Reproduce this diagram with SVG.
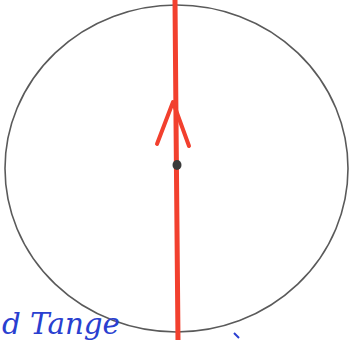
<svg xmlns="http://www.w3.org/2000/svg" width="352" height="340" viewBox="0 0 352 340">
  <style>
    .pencil { fill: none; stroke: #5a5a5a; stroke-width: 1.6; }
    .red { fill: none; stroke: #f2402e; stroke-width: 5; stroke-linecap: round; stroke-linejoin: round; }
    .redthin { fill: none; stroke: #f2402e; stroke-width: 4; stroke-linecap: round; stroke-linejoin: round; }
    .hand { fill: #2a3fd0; font-family: "DejaVu Serif", serif; font-style: italic; font-size: 30px; }
  </style>
  <rect width="352" height="340" fill="#ffffff"/>
  <g id="circle">
    <ellipse class="pencil" cx="176.5" cy="168.5" rx="171.5" ry="163.5"/>
  </g>
  <g id="connectors">
    <path class="red" d="M175,0 L176,120 L178,340"/>
    <path class="redthin" d="M157,144 L173,102 L189,146"/>
  </g>
  <g id="center">
    <ellipse cx="177" cy="165" rx="4.5" ry="5" fill="#3a3a3a"/>
  </g>
  <g id="label">
    <text class="hand" x="2" y="334" textLength="118" lengthAdjust="spacingAndGlyphs">d Tange</text>
    <path d="M234,333 l5,5" stroke="#2a3fd0" stroke-width="2" fill="none"/>
  </g>
</svg>
